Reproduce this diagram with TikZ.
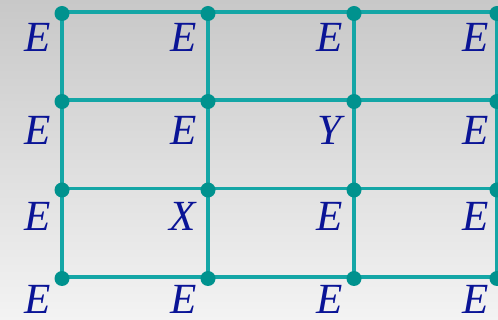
\documentclass[tikz,border=0pt]{standalone}
\usepackage{fontspec}
\setmainfont{Liberation Serif}
\definecolor{bgtop}{RGB}{200,200,200}
\definecolor{bgbot}{RGB}{243,243,243}
\definecolor{gridline}{RGB}{20,166,166}
\definecolor{griddot}{RGB}{0,146,142}
\definecolor{lettercol}{RGB}{10,20,150}
\begin{document}
\begin{tikzpicture}[x=1pt,y=-1pt,
  gridedge/.style={draw=gridline,line width=3.3pt},
  griddotstyle/.style={circle,fill=griddot,inner sep=0pt,minimum size=15pt},
  lbl/.style={inner sep=0pt,text depth=0pt,text=lettercol,font=\fontsize{43}{43}\selectfont\itshape}]
\shade[top color=bgtop,bottom color=bgbot] (0,0) rectangle (498,320);
\useasboundingbox (0,0) rectangle (498,320);
% grid points
\foreach \c/\x in {1/62,2/208,3/354,4/497}{
  \foreach \r/\y in {1/12,2/100,3/188.5,4/277}{
    \coordinate (p\c\r) at (\x,\y);
  }
}
\coordinate (e1) at (498,12);
\coordinate (e2) at (498,100);
\coordinate (e3) at (498,188.5);
\coordinate (e4) at (498,277);
% horizontal lines
\foreach \r in {1,2,3,4}{
  \draw[gridedge] (p1\r) -- (e\r);
}
% vertical lines
\foreach \c in {1,2,3,4}{
  \draw[gridedge] (p\c1) -- (p\c4);
}
% dots
\foreach \c in {1,2,3,4}{
  \foreach \r in {1,2,3,4}{
    \node[griddotstyle] (d\c\r) at ([yshift=-1.5pt]p\c\r) {};
  }
}
% labels
\node[lbl] (l11) at (38,37.5) {E};
\node[lbl] (l21) at (183.5,37.5) {E};
\node[lbl] (l31) at (329.5,37.5) {E};
\node[lbl] (l41) at (476,37.5) {E};
\node[lbl] (l12) at (38,130) {E};
\node[lbl] (l22) at (183.5,130) {E};
\node[lbl] (l32) at (329.5,130) {Y};
\node[lbl] (l42) at (476,130) {E};
\node[lbl] (l13) at (38,216) {E};
\node[lbl] (l23) at (183,216) {X};
\node[lbl] (l33) at (329.5,216) {E};
\node[lbl] (l43) at (476,216) {E};
\node[lbl] (l14) at (38,299.5) {E};
\node[lbl] (l24) at (183.5,299.5) {E};
\node[lbl] (l34) at (329.5,299.5) {E};
\node[lbl] (l44) at (476,299.5) {E};
\end{tikzpicture}
\end{document}
